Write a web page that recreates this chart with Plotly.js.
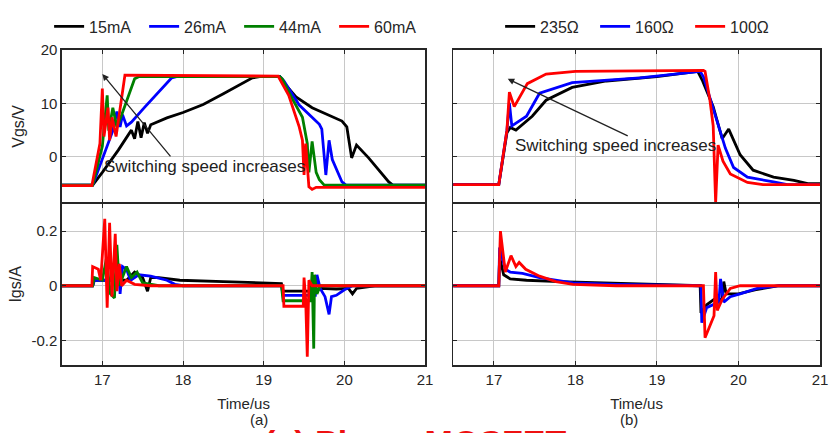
<!DOCTYPE html>
<html><head><meta charset="utf-8">
<script src="https://cdn.plot.ly/plotly-3.0.1.min.js"></script>
<style>html,body{margin:0;padding:0;background:#fff}#chart{width:829px;height:433px}</style>
</head><body><div id="chart"></div>
<script>
// ---------- labels & colours ----------
const labelsA = ['15mA', '26mA', '44mA', '60mA'];
const labelsB = ['235Ω', '160Ω', '100Ω'];
const colorsA = ['#000000', '#0000ff', '#008000', '#ff0000'];
const colorsB = ['#000000', '#0000ff', '#ff0000'];
const xTicks = [17, 18, 19, 20, 21];
const vTicks = [0, 10, 20];
const iTicks = [-0.2, 0, 0.2];
const iTickText = ['-0.2', '0', '0.2'];

// ---------- (a) Vgs, time in us, value in V ----------
const aV15_t = [16.5, 16.88, 17.0, 17.2, 17.36, 17.40, 17.44, 17.48, 17.52, 17.56, 17.60, 17.8, 18.0, 18.25, 18.5, 18.7, 18.86, 18.95, 19.2, 19.23, 19.4, 19.6, 19.97, 20.03, 20.09, 20.15, 20.3, 20.55, 20.6, 21];
const aV15_v = [-5.3, -5.3, -2.9, 1.3, 5.0, 3.4, 6.6, 3.6, 6.4, 4.4, 6.0, 7.3, 8.3, 9.8, 11.8, 13.5, 14.8, 15.0, 15.0, 14.2, 11.2, 9.2, 6.7, 5.6, -0.2, 2.2, -0.2, -4.7, -5.3, -5.3];
const aV26_t = [16.5, 16.88, 17.13, 17.18, 17.22, 17.25, 17.30, 17.36, 17.52, 17.69, 17.86, 17.92, 19.2, 19.25, 19.44, 19.69, 19.72, 19.77, 19.81, 19.85, 19.97, 20.02, 21];
const aV26_v = [-5.3, -5.3, 4.9, 8.5, 5.6, 7.9, 5.8, 6.5, 9.2, 12.1, 14.8, 15.0, 15.0, 14.2, 9.7, 6.1, 5.2, -3.4, 3.1, -0.5, -4.7, -5.3, -5.3];
const aV44_t = [16.5, 16.88, 17.0, 17.06, 17.08, 17.13, 17.18, 17.24, 17.40, 17.45, 19.2, 19.23, 19.35, 19.48, 19.54, 19.56, 19.60, 19.65, 19.69, 19.75, 21];
const aV44_v = [-5.3, -5.3, 2.0, 11.5, 4.9, 9.2, 5.6, 7.9, 14.6, 15.0, 15.0, 14.6, 11.0, 7.4, 2.5, -2.9, 2.9, -2.9, -4.3, -5.3, -5.3];
const aV60_t = [16.5, 16.87, 16.97, 17.0, 17.02, 17.07, 17.09, 17.12, 17.17, 17.28, 19.18, 19.19, 19.31, 19.44, 19.48, 19.50, 19.52, 19.56, 19.60, 19.65, 21];
const aV60_v = [-5.4, -5.4, 2.5, 12.8, 3.8, 9.2, 3.1, 7.4, 3.8, 15.3, 15.1, 14.8, 11.5, 5.6, 3.1, -3.4, 2.5, -5.6, -6.1, -5.7, -5.7];

// ---------- (a) Igs, value in A ----------
const aI15_t = [16.5, 16.88, 16.9, 17.3, 17.4, 17.5, 17.56, 17.6, 17.7, 17.96, 18.5, 19.0, 19.22, 19.24, 19.65, 19.7, 19.9, 20.05, 20.1, 20.15, 20.4, 21];
const aI15_i = [0, 0, 0.02, 0.02, 0.05, 0.03, -0.02, 0.03, 0.03, 0.02, 0.015, 0.012, 0.008, -0.02, -0.02, -0.01, -0.012, -0.01, -0.03, -0.01, 0, 0];
const aI26_t = [16.5, 16.88, 16.9, 17.15, 17.2, 17.22, 17.25, 17.3, 17.35, 17.45, 17.6, 17.8, 17.9, 18.0, 19.22, 19.24, 19.64, 19.66, 19.70, 19.76, 19.81, 19.84, 19.9, 20.0, 20.1, 21];
const aI26_i = [0, 0, 0.02, 0.02, 0.08, -0.03, 0.07, 0.06, 0.02, 0.04, 0.035, 0.02, 0.005, 0, 0, -0.035, -0.035, 0.04, -0.01, -0.04, -0.105, -0.04, -0.035, -0.015, 0, 0];
const aI44_t = [16.5, 16.88, 16.9, 17.0, 17.05, 17.1, 17.15, 17.18, 17.21, 17.3, 17.36, 17.43, 17.5, 17.7, 19.22, 19.24, 19.58, 19.60, 19.62, 19.63, 19.66, 19.7, 21];
const aI44_i = [0, 0, 0.03, 0.02, 0.1, -0.03, -0.045, 0.15, 0.0, 0.07, 0.03, 0.05, 0.01, 0, 0, -0.055, -0.055, 0.05, -0.23, 0.04, -0.03, 0, 0];
const aI60_t = [16.5, 16.87, 16.88, 16.95, 16.98, 17.03, 17.06, 17.09, 17.12, 17.16, 17.18, 17.21, 17.24, 17.3, 17.4, 17.6, 19.24, 19.25, 19.49, 19.50, 19.52, 19.54, 19.56, 19.6, 21];
const aI60_i = [0, 0, 0.07, 0.06, 0.02, 0.245, -0.08, 0.23, -0.04, 0.19, -0.02, 0.08, 0.0, 0.02, 0.005, 0, 0, -0.075, -0.075, 0.03, -0.05, -0.26, 0.02, 0, 0];

// ---------- (b) Vgs ----------
const bV235_t = [16.5, 17.06, 17.16, 17.2, 17.27, 17.47, 17.64, 17.96, 18.38, 19.0, 19.5, 19.56, 19.69, 19.80, 19.88, 20.02, 20.18, 20.43, 20.68, 20.85, 21];
const bV235_v = [-5.2, -5.2, 4.5, 5.5, 5.0, 7.6, 10.6, 13.0, 14.2, 15.0, 16.0, 14.2, 9.4, 3.4, 5.2, 0.4, -2.5, -3.8, -4.4, -5.0, -5.0];
const bV160_t = [16.5, 17.06, 17.16, 17.19, 17.22, 17.40, 17.56, 17.96, 18.79, 19.53, 19.57, 19.68, 19.76, 19.84, 19.94, 20.11, 20.43, 20.6, 21];
const bV160_v = [-5.2, -5.2, 5.0, 10.1, 5.8, 7.6, 11.9, 13.9, 14.8, 16.0, 15.0, 9.4, 5.2, 1.6, -2.0, -3.8, -4.7, -5.2, -5.2];
const bV100_t = [16.5, 17.06, 17.16, 17.19, 17.25, 17.41, 17.64, 18.0, 19.57, 19.59, 19.65, 19.69, 19.72, 19.75, 19.81, 19.9, 20.11, 20.3, 21];
const bV100_v = [-5.2, -5.2, 5.0, 12.1, 9.4, 13.7, 15.5, 16.0, 16.2, 16.0, 10.6, 5.8, -8.6, 2.2, -0.8, -3.2, -4.8, -5.2, -5.2];

// ---------- (b) Igs ----------
const bI235_t = [16.5, 17.06, 17.07, 17.12, 17.2, 17.4, 17.8, 18.3, 18.8, 19.53, 19.54, 19.61, 19.70, 19.80, 19.82, 19.85, 20.0, 20.2, 20.5, 21];
const bI235_i = [0, 0, 0.105, 0.04, 0.025, 0.02, 0.015, 0.01, 0.005, 0, -0.1, -0.07, -0.05, -0.05, 0.015, -0.03, -0.03, -0.015, 0, 0];
const bI160_t = [16.5, 17.06, 17.07, 17.14, 17.2, 17.35, 17.56, 17.97, 18.5, 19.54, 19.55, 19.61, 19.76, 19.78, 19.82, 19.9, 20.02, 20.23, 20.5, 21];
const bI160_i = [0, 0, 0.14, 0.06, 0.05, 0.045, 0.03, 0.01, 0.005, 0, -0.135, -0.08, -0.06, 0.025, -0.06, -0.04, -0.03, -0.01, 0, 0];
const bI100_t = [16.5, 17.06, 17.08, 17.14, 17.21, 17.27, 17.31, 17.39, 17.56, 17.76, 17.97, 18.5, 19.57, 19.59, 19.70, 19.72, 19.74, 19.8, 19.9, 20.02, 21];
const bI100_i = [0, 0, 0.2, 0.05, 0.11, 0.07, 0.085, 0.06, 0.035, 0.015, 0.005, 0, 0, -0.19, -0.11, 0.05, -0.09, -0.05, -0.01, 0, 0];

// ---------- traces ----------
const FONT = 'Liberation Sans, Arial, sans-serif';
function tr(x, y, name, color, xa, ya, legend, show) {
  return {x: x, y: y, name: name, type: 'scatter', mode: 'lines',
    line: {color: color, width: 2.8}, xaxis: xa, yaxis: ya,
    legend: legend, showlegend: show, hoverinfo: 'skip'};
}
const aV = [[aV15_t, aV15_v], [aV26_t, aV26_v], [aV44_t, aV44_v], [aV60_t, aV60_v]];
const aI = [[aI15_t, aI15_i], [aI26_t, aI26_i], [aI44_t, aI44_i], [aI60_t, aI60_i]];
const bV = [[bV235_t, bV235_v], [bV160_t, bV160_v], [bV100_t, bV100_v]];
const bI = [[bI235_t, bI235_i], [bI160_t, bI160_i], [bI100_t, bI100_i]];
const data = [];
aV.forEach((d, k) => data.push(tr(d[0], d[1], labelsA[k], colorsA[k], 'x', 'y', 'legend', true)));
aI.forEach((d, k) => data.push(tr(d[0], d[1], labelsA[k], colorsA[k], 'x2', 'y2', 'legend', false)));
bV.forEach((d, k) => data.push(tr(d[0], d[1], labelsB[k], colorsB[k], 'x3', 'y3', 'legend2', true)));
bI.forEach((d, k) => data.push(tr(d[0], d[1], labelsB[k], colorsB[k], 'x4', 'y4', 'legend2', false)));

// ---------- axes ----------
function ax(extra) {
  return Object.assign({
    showline: true, mirror: 'ticks', linecolor: '#262626', linewidth: 1.6,
    ticks: 'inside', ticklen: 4, tickcolor: '#262626', tickwidth: 1,
    showgrid: true, gridcolor: '#c8c8c8', gridwidth: 1, zeroline: false,
    tickfont: {family: FONT, size: 15, color: '#262626'}, automargin: false, fixedrange: true
  }, extra);
}
const xr = [16.5, 21], vr = [-8.6, 20], ir = [-0.29, 0.3];
const dL = [0, 0.479], dR = [0.516, 1], dT = [0.515, 1], dB = [0, 0.512];
const xTitle = {text: 'Time/us', font: {family: FONT, size: 15, color: '#262626'}, standoff: 12};

const layout = {
  width: 829, height: 433,
  margin: {l: 62, r: 9, t: 37, b: 68},
  paper_bgcolor: '#ffffff', plot_bgcolor: '#ffffff',
  font: {family: FONT, color: '#262626'},
  xaxis: ax({domain: dL, anchor: 'y', range: xr, tickvals: xTicks, showticklabels: false}),
  yaxis: ax({domain: dT, anchor: 'x', range: vr, tickvals: vTicks,
    title: {text: 'Vgs/V', font: {family: FONT, size: 16, color: '#262626'}, standoff: 12}}),
  xaxis2: ax({domain: dL, anchor: 'y2', range: xr, tickvals: xTicks, title: xTitle}),
  yaxis2: ax({domain: dB, anchor: 'x2', range: ir, tickvals: iTicks, ticktext: iTickText,
    title: {text: 'Igs/A', font: {family: FONT, size: 16, color: '#262626'}, standoff: 6}}),
  xaxis3: ax({domain: dR, anchor: 'y3', range: xr, tickvals: xTicks, showticklabels: false}),
  yaxis3: ax({domain: dT, anchor: 'x3', range: vr, tickvals: vTicks, showticklabels: false}),
  xaxis4: ax({domain: dR, anchor: 'y4', range: xr, tickvals: xTicks, title: xTitle}),
  yaxis4: ax({domain: dB, anchor: 'x4', range: ir, tickvals: iTicks, showticklabels: false}),
  legend: {orientation: 'h', x: -0.017, xanchor: 'left', y: 1.075, yanchor: 'middle',
    font: {family: FONT, size: 16, color: '#262626'}, bgcolor: 'rgba(0,0,0,0)', itemwidth: 30,
    entrywidth: 50, entrywidthmode: 'pixels'},
  legend2: {orientation: 'h', x: 0.578, xanchor: 'left', y: 1.075, yanchor: 'middle',
    font: {family: FONT, size: 16, color: '#262626'}, bgcolor: 'rgba(0,0,0,0)', itemwidth: 30,
    entrywidth: 50, entrywidthmode: 'pixels'},
  annotations: [
    {xref: 'x', yref: 'y', x: 17.0, y: 15.5, ax: 17.86, ay: -0.2, axref: 'x', ayref: 'y',
      text: '', showarrow: true, arrowhead: 2, arrowsize: 1, arrowwidth: 1.3, arrowcolor: '#222'},
    {xref: 'x', yref: 'y', x: 18.27, y: -1.8, text: 'Switching speed increases', showarrow: false,
      font: {family: FONT, size: 17, color: '#222'}},
    {xref: 'x3', yref: 'y3', x: 17.17, y: 14.6, ax: 18.66, ay: 3.8, axref: 'x3', ayref: 'y3',
      text: '', showarrow: true, arrowhead: 2, arrowsize: 1, arrowwidth: 1.3, arrowcolor: '#222'},
    {xref: 'x3', yref: 'y3', x: 18.49, y: 2.1, text: 'Switching speed increases', showarrow: false,
      font: {family: FONT, size: 17, color: '#222'}},
    {xref: 'paper', yref: 'paper', x: 0.246, y: -0.174, yanchor: 'middle', text: '(a)', showarrow: false,
      font: {family: FONT, size: 15, color: '#262626'}},
    {xref: 'paper', yref: 'paper', x: 0.763, y: -0.174, yanchor: 'middle', text: '(b)', showarrow: false,
      font: {family: FONT, size: 15, color: '#262626'}},
    {xref: 'paper', yref: 'paper', x: 0.466, y: -0.178, yanchor: 'top', text: '<b>(a) Phase MOSFET</b>', showarrow: false,
      font: {family: FONT, size: 34, color: '#ee1111'}}
  ]
};
Plotly.newPlot('chart', data, layout, {staticPlot: true, displayModeBar: false});
</script>
</body></html>
